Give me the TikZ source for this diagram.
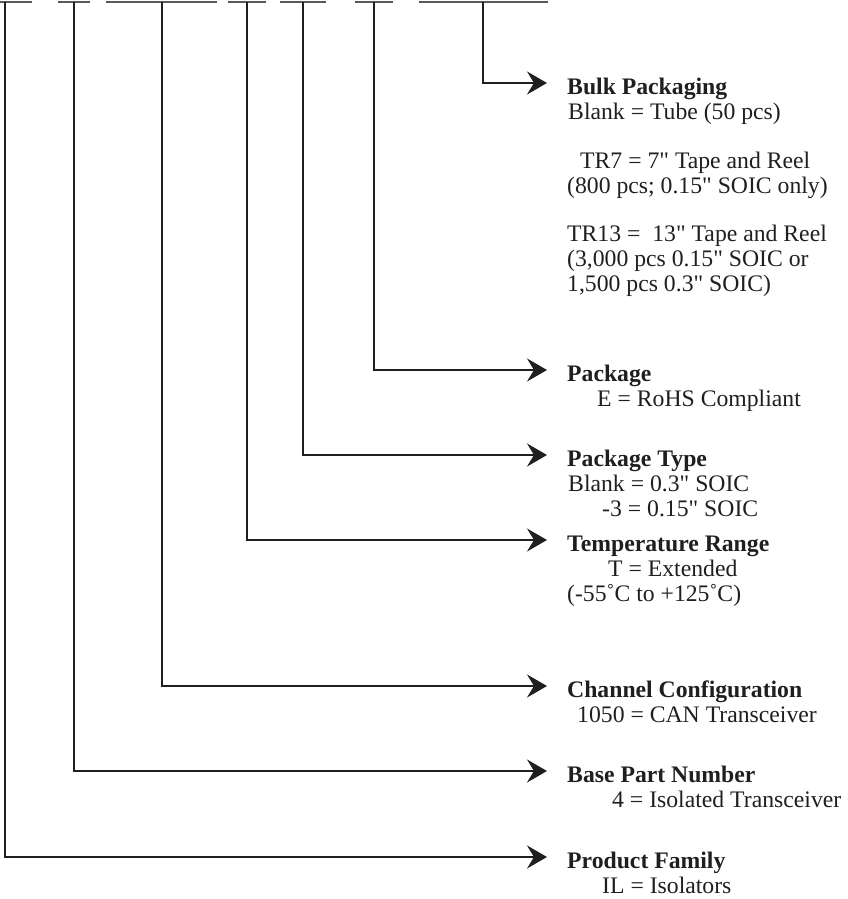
\documentclass[tikz,border=0pt]{standalone}
\usepackage{fontspec}
\setmainfont{Liberation Serif}[Ligatures=TeXOff]
\usetikzlibrary{arrows.meta}
\begin{document}
\begin{tikzpicture}[x=1pt,y=-1pt,
  wire/.style={line width=1.3pt, draw=black!88},
  blank/.style={line width=1.6pt, draw=black!65},
  tip/.style={-{Stealth[length=20pt,width=23pt,inset=7pt]}},
  lbl/.style={anchor=base west, inner sep=0pt, font=\fontsize{23.7}{25}\selectfont, text=black!88},
  ttl/.style={lbl, font=\fontsize{23.7}{25}\selectfont\bfseries}]
\useasboundingbox (0,0) rectangle (847,899);

% part-number blanks
\coordinate (s1a) at (0,2);   \coordinate (s1b) at (32,2);
\coordinate (s2a) at (58,2);  \coordinate (s2b) at (90,2);
\coordinate (s3a) at (106,2); \coordinate (s3b) at (217,2);
\coordinate (s4a) at (228,2); \coordinate (s4b) at (266,2);
\coordinate (s5a) at (280,2); \coordinate (s5b) at (326,2);
\coordinate (s6a) at (355,2); \coordinate (s6b) at (393,2);
\coordinate (s7a) at (419,2); \coordinate (s7b) at (548,2);
\foreach \i in {1,...,7} { \draw[blank] (s\i a) -- (s\i b); }

% tops of the leader lines
\coordinate (t1) at (5,2);
\coordinate (t2) at (74,2);
\coordinate (t3) at (162,2);
\coordinate (t4) at (247,2);
\coordinate (t5) at (303,2);
\coordinate (t6) at (374,2);
\coordinate (t7) at (483,2);

% arrow ends
\coordinate (e7) at (547,83);
\coordinate (e6) at (547,370);
\coordinate (e5) at (547,455);
\coordinate (e4) at (547,540);
\coordinate (e3) at (547,686);
\coordinate (e2) at (547,771);
\coordinate (e1) at (547,857);

% labels
\node[ttl] (bp) at (567,94) {Bulk Packaging};
\node[lbl] (bp1) at (568,119) {Blank = Tube (50 pcs)};
\node[lbl] (bp2) at (580,168) {TR7 = 7" Tape and Reel};
\node[lbl] (bp3) at (567,193) {(800 pcs; 0.15" SOIC only)};
\node[lbl] (bp4) at (567,241) {TR13 =\ \ 13" Tape and Reel};
\node[lbl] (bp5) at (567,266) {(3,000 pcs 0.15" SOIC or};
\node[lbl] (bp6) at (567,291) {1,500 pcs 0.3" SOIC)};

\node[ttl] (pk) at (567,381) {Package};
\node[lbl] (pk1) at (597,406) {E = RoHS Compliant};

\node[ttl] (pt) at (567,466) {Package Type};
\node[lbl] (pt1) at (568,491) {Blank = 0.3" SOIC};
\node[lbl] (pt2) at (602,516) {-3 = 0.15" SOIC};

\node[ttl] (tr) at (567,551) {Temperature Range};
\node[lbl] (tr1) at (608,576) {T = Extended};
\node[lbl] (tr2) at (567,601) {(-55˚C to +125˚C)};

\node[ttl] (cc) at (567,697) {Channel Configuration};
\node[lbl] (cc1) at (577,722) {1050 = CAN Transceiver};

\node[ttl] (bn) at (567,782) {Base Part Number};
\node[lbl] (bn1) at (612,807) {4 = Isolated Transceiver};

\node[ttl] (pf) at (567,868) {Product Family};
\node[lbl] (pf1) at (602,893) {IL = Isolators};

% leaders
\draw[wire,tip] (t7) |- (e7);
\draw[wire,tip] (t6) |- (e6);
\draw[wire,tip] (t5) |- (e5);
\draw[wire,tip] (t4) |- (e4);
\draw[wire,tip] (t3) |- (e3);
\draw[wire,tip] (t2) |- (e2);
\draw[wire,tip] (t1) |- (e1);
\end{tikzpicture}
\end{document}
